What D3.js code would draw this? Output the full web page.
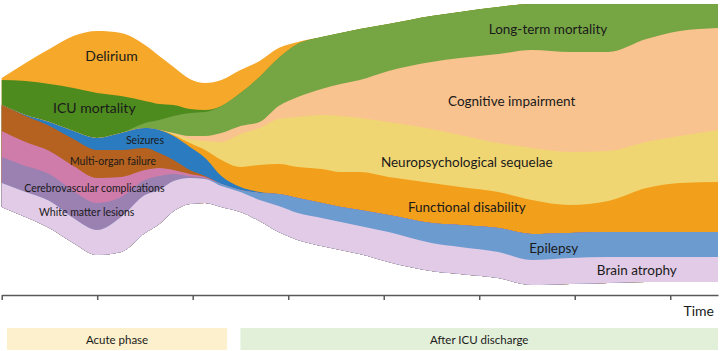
<!DOCTYPE html>
<html>
<head>
<meta charset="utf-8">
<script src="https://cdn.jsdelivr.net/npm/d3@7"></script>
<style>
  body { margin: 0; background: #fff; }
  svg { display: block; font-family: Lato, "Open Sans", sans-serif; }
</style>
</head>
<body>
<svg width="720" height="351"></svg>
<script>
// time points (axis units, one tick per unit)
const time = [0, 0.25, 0.5, 0.75, 1, 1.25, 1.5, 1.65, 1.8, 1.97, 2.13, 2.3, 2.5, 2.7, 2.9, 3.1,
    3.35, 3.55, 3.75, 4.05, 4.5, 4.8, 5.2, 5.55, 5.95, 6.35, 6.75, 7.1, 7.5];

// height of the bottom edge above the axis
const baseline = [88, 78, 67, 52, 40, 43, 62, 71, 84, 91, 92, 88, 83, 74, 63, 55,
    49, 45, 41, 33, 24, 21, 17, 10, 11, 12, 13, 13, 13];

// band thickness per layer, bottom to top
const atrophy = [24, 25, 27, 25, 25, 35, 38, 34, 30, 26, 24, 21, 20, 21, 26, 27,
    28, 28, 28, 30, 28, 27, 26, 25, 26, 26, 25, 25, 25];
const epilepsy = [0, 0, 0, 0, 0, 0, 0, 0, 0, 0, 0, 2, 2, 7, 12, 15,
    15, 15, 16, 17, 20, 22, 24, 26, 25, 25, 25, 25, 25];
const whiteMatter = [26, 26, 27, 27, 27, 20, 15, 14, 7, 2, 1, 0, 0, 0, 0, 0,
    0, 0, 0, 0, 0, 0, 0, 0, 0, 0, 0, 0, 0];
const cerebro = [26, 24, 23, 25, 25, 20, 10, 8, 4, 2, 1, 0, 0, 0, 0, 0,
    0, 0, 0, 0, 0, 0, 0, 0, 0, 0, 0, 0, 0];
const organFailure = [26, 26, 25, 27, 28, 27, 22, 15, 10, 4, 1, 0, 0, 0, 0, 0,
    0, 0, 0, 0, 0, 0, 0, 0, 0, 0, 0, 0, 0];
const seizures = [0, 1, 4, 8, 12, 17, 20, 23, 24, 23, 18, 8, 3, 1, 0, 0,
    0, 0, 0, 0, 0, 0, 0, 0, 0, 0, 0, 0, 0];
const disability = [0, 0, 0, 0, 0, 0, 0, 0, 1, 4, 8, 16, 20, 27, 30, 31,
    34, 35, 38, 38, 40, 38, 36, 34, 28, 31, 44, 49, 50];
const neuro = [0, 0, 0, 0, 0, 0, 0, 0, 1, 4, 9, 18, 33, 37, 45, 50,
    54, 56, 54, 55, 54, 52, 49, 52, 53, 50, 46, 47, 52];
const cognitive = [0, 0, 0, 0, 0, 0, 0, 0, 1, 3, 5, 9, 8, 6, 13, 20,
    26, 32, 38, 51, 67, 77, 89, 98, 100, 99, 103, 105, 102];
const longMortality = [0, 0, 0, 0, 0, 0, 5, 10, 17, 23, 24, 27, 33, 45, 48, 53,
    52, 51, 51, 47, 46, 46, 47, 46, 48, 48, 35, 27, 24];
const icuMortality = [25, 34, 38, 43, 45, 37, 22, 16, 11, 4, 2, 0, 0, 0, 0, 0,
    0, 0, 0, 0, 0, 0, 0, 0, 0, 0, 0, 0, 0];
const delirium = [2, 18, 35, 52, 62, 63, 56, 48, 38, 30, 27, 26, 23, 16, 10, 2,
    0, 0, 0, 0, 0, 0, 0, 0, 0, 0, 0, 0, 0];

const layers = [
    {key: "atrophy", values: atrophy, color: "#e2cbe6"},
    {key: "epilepsy", values: epilepsy, color: "#6c9bd0"},
    {key: "whiteMatter", values: whiteMatter, color: "#9b80b2"},
    {key: "cerebro", values: cerebro, color: "#cf7caa"},
    {key: "organFailure", values: organFailure, color: "#b5611f"},
    {key: "seizures", values: seizures, color: "#2a7bbf"},
    {key: "disability", values: disability, color: "#f29f1b"},
    {key: "neuro", values: neuro, color: "#f0d672"},
    {key: "cognitive", values: cognitive, color: "#f9c38f"},
    {key: "longMortality", values: longMortality, color: "#76a544"},
    {key: "icuMortality", values: icuMortality, color: "#4e8b1f"},
    {key: "delirium", values: delirium, color: "#f5a829"}
];

// labels (time, height)
const labels = [
    {text: "Delirium", t: 1.15, v: 240, size: 14},
    {text: "ICU mortality", t: 0.97, v: 188, size: 14},
    {text: "Seizures", t: 1.5, v: 155, size: 10.5},
    {text: "Multi-organ failure", t: 1.165, v: 134, size: 10.5},
    {text: "Cerebrovascular complications", t: 0.97, v: 107, size: 10.5},
    {text: "White matter lesions", t: 0.89, v: 83, size: 10.5},
    {text: "Long-term mortality", t: 5.72, v: 266, size: 13.5},
    {text: "Cognitive impairment", t: 5.34, v: 194, size: 13.5},
    {text: "Neuropsychological sequelae", t: 4.87, v: 133, size: 13.5},
    {text: "Functional disability", t: 4.87, v: 88, size: 13.5},
    {text: "Epilepsy", t: 5.78, v: 47, size: 13.5},
    {text: "Brain atrophy", t: 6.65, v: 25, size: 13.5}
];

const phases = [
    {text: "Acute phase", from: 0.055, to: 2.36, color: "#fdf0cc"},
    {text: "After ICU discharge", from: 2.5, to: 7.5, color: "#e2efd9"}
];

const svg = d3.select("svg");

const x = d3.scaleLinear().domain([0, 7.5]).range([1.7, 718]);
const y = d3.scaleLinear().domain([0, 295]).range([295, 0]);

// table for d3.stack
const rows = time.map((t, i) => {
    const row = {t: t, base: baseline[i]};
    layers.forEach(l => { row[l.key] = l.values[i]; });
    return row;
});

const stack = d3.stack()
    .keys(layers.map(l => l.key))
    .offset((series, order) => {
        d3.stackOffsetNone(series, order);
        series.forEach(s => s.forEach((d, i) => {
            d[0] += rows[i].base;
            d[1] += rows[i].base;
        }));
    });

const series = stack(rows);
const bottom = series[0];

// each band is filled down to the stack bottom, top layer first, so no seams
const area = d3.area()
    .x(d => x(d.data.t))
    .y0((d, i) => y(bottom[i][0]))
    .y1(d => y(d[1]))
    .curve(d3.curveMonotoneX);

svg.append("g")
    .selectAll("path")
    .data(series.slice().reverse())
    .join("path")
    .attr("fill", (d) => layers[d.index].color)
    .attr("d", area);

svg.append("g")
    .selectAll("text")
    .data(labels)
    .join("text")
    .attr("x", d => x(d.t))
    .attr("y", d => y(d.v))
    .attr("text-anchor", "middle")
    .attr("dominant-baseline", "central")
    .attr("font-size", d => d.size)
    .attr("fill", "#1a1a1a")
    .text(d => d.text);

// time axis
const axis = svg.append("g")
    .attr("transform", "translate(0,295)")
    .call(d3.axisBottom(x).ticks(8).tickValues(d3.range(0, 8)).tickSize(5).tickSizeOuter(0).tickFormat(""));
axis.select(".domain").attr("stroke", "#595959").attr("stroke-width", 1.5);
axis.selectAll(".tick line").attr("stroke", "#595959").attr("stroke-width", 1.5);

svg.append("text")
    .attr("x", 714)
    .attr("y", 310)
    .attr("text-anchor", "end")
    .attr("dominant-baseline", "central")
    .attr("font-size", 14)
    .attr("fill", "#1a1a1a")
    .text("Time");

// phase bars
const phase = svg.append("g").selectAll("g").data(phases).join("g");
phase.append("rect")
    .attr("x", d => x(d.from))
    .attr("y", 328)
    .attr("width", d => x(d.to) - x(d.from))
    .attr("height", 22)
    .attr("fill", d => d.color);
phase.append("text")
    .attr("x", d => (x(d.from) + x(d.to)) / 2)
    .attr("y", 339.5)
    .attr("text-anchor", "middle")
    .attr("dominant-baseline", "central")
    .attr("font-size", 11.5)
    .attr("fill", "#1a1a1a")
    .text(d => d.text);
</script>
</body>
</html>
